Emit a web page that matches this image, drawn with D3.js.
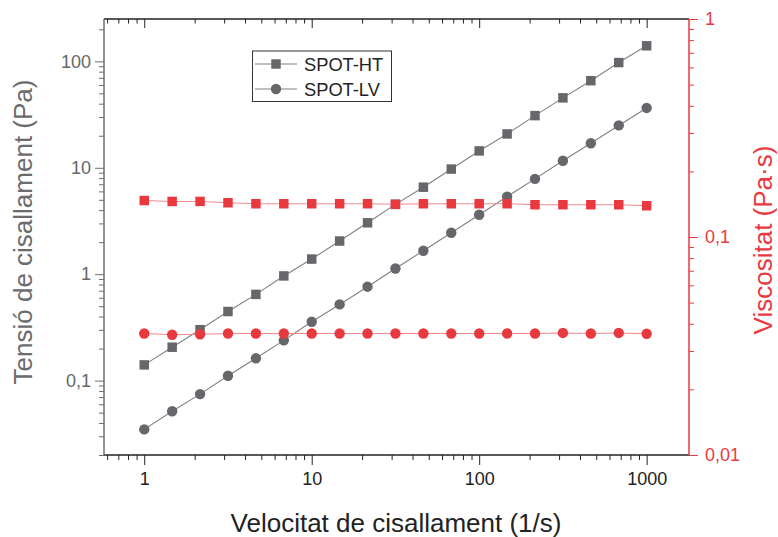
<!DOCTYPE html>
<html><head><meta charset="utf-8">
<script src="https://cdn.jsdelivr.net/npm/d3@7"></script>
<style>
body{margin:0;background:#fff;}
svg{display:block;font-family:"Liberation Sans",Arial,sans-serif;}
</style></head>
<body><svg id="c" width="778" height="537"></svg>
<script>
// ---- data ----
const shearRate = [1, 1.468, 2.154, 3.162, 4.642, 6.813, 10, 14.68, 21.54, 31.62, 46.42, 68.13, 100, 146.8, 215.4, 316.2, 464.2, 681.3, 1000];
const stressHT = [0.1405, 0.206, 0.301, 0.446, 0.646, 0.963, 1.387, 2.05, 3.04, 4.53, 6.57, 9.72, 14.4, 20.8, 30.9, 45.4, 65.8, 97.4, 140];
const stressLV = [0.0348, 0.0515, 0.0747, 0.111, 0.162, 0.239, 0.357, 0.520, 0.763, 1.13, 1.66, 2.45, 3.62, 5.36, 7.87, 11.65, 17.0, 25.0, 36.5];
const viscHT = [0.147, 0.1456, 0.1456, 0.1436, 0.1421, 0.1421, 0.1421, 0.1421, 0.1421, 0.1413, 0.1421, 0.1421, 0.1421, 0.1421, 0.1406, 0.1406, 0.1406, 0.1406, 0.1391];
const viscLV = [0.0361, 0.0356, 0.0358, 0.0361, 0.0361, 0.0361, 0.0361, 0.0361, 0.0361, 0.0361, 0.0361, 0.0361, 0.0361, 0.0361, 0.0361, 0.0363, 0.0361, 0.0363, 0.0360];
const seriesNames = ["SPOT-HT", "SPOT-LV"];
const xTicks = [1, 10, 100, 1000];
const xTickLabels = ["1", "10", "100", "1000"];
const yLeftTicks = [0.1, 1, 10, 100];
const yLeftTickLabels = ["0,1", "1", "10", "100"];
const yRightTicks = [0.01, 0.1, 1];
const yRightTickLabels = ["0,01", "0,1", "1"];

// ---- layout ----
const svg = d3.select("#c");
const L = 104, R = 689, T = 19, B = 455;
const GRAY = "#66676b", RED = "#e8393f", AXG = "#6e6e6e";
const TICKFS = 18;

const x = d3.scaleLog().domain([0.575, 1790]).range([L, R]);
const yL = d3.scaleLog().domain([0.02, 250]).range([B, T]);
const yR = d3.scaleLog().domain([0.01, 1]).range([B, T]);

function minors(scale) {
  const [a, b] = scale.domain();
  const out = [];
  for (let e = Math.floor(Math.log10(a)); e <= Math.ceil(Math.log10(b)); e++) {
    for (let m = 2; m <= 9; m++) {
      const v = m * Math.pow(10, e);
      if (v >= a * 0.999 && v <= b * 1.001) out.push(v);
    }
  }
  return out;
}
function styleAxis(g, color, fontColor) {
  g.select(".domain").remove();
  g.selectAll("line").attr("stroke", color).attr("stroke-width", 1);
  g.selectAll("text").attr("fill", fontColor).attr("font-size", TICKFS).attr("font-family", "Liberation Sans, Arial, sans-serif");
}

// bottom axis
const gB = svg.append("g").attr("transform", `translate(0,${B})`);
gB.call(d3.axisBottom(x).tickValues(xTicks).tickFormat((d, i) => xTickLabels[i]).tickSize(10).tickPadding(7));
styleAxis(gB, "#222", "#222");
const gBm = svg.append("g").attr("transform", `translate(0,${B})`);
gBm.call(d3.axisBottom(x).tickValues(minors(x)).tickFormat("").tickSize(5));
styleAxis(gBm, "#222", "#222");

// top axis (ticks pointing inward)
const gT = svg.append("g").attr("transform", `translate(0,${T})`);
gT.call(d3.axisBottom(x).tickValues(xTicks).tickFormat("").tickSize(9));
styleAxis(gT, "#222", "#222");
const gTm = svg.append("g").attr("transform", `translate(0,${T})`);
gTm.call(d3.axisBottom(x).tickValues(minors(x)).tickFormat("").tickSize(4.5));
styleAxis(gTm, "#222", "#222");

// left axis
const gL = svg.append("g").attr("transform", `translate(${L},0)`);
gL.call(d3.axisLeft(yL).tickValues(yLeftTicks).tickFormat((d, i) => yLeftTickLabels[i]).tickSize(9).tickPadding(4));
styleAxis(gL, AXG, "#676767");
const gLm = svg.append("g").attr("transform", `translate(${L},0)`);
gLm.call(d3.axisLeft(yL).tickValues(minors(yL)).tickFormat("").tickSize(5));
styleAxis(gLm, AXG, AXG);

// right axis
const gR = svg.append("g").attr("transform", `translate(${R},0)`);
gR.call(d3.axisRight(yR).tickValues(yRightTicks).tickFormat((d, i) => yRightTickLabels[i]).tickSize(9).tickPadding(7));
styleAxis(gR, RED, RED);
const gRm = svg.append("g").attr("transform", `translate(${R},0)`);
gRm.call(d3.axisRight(yR).tickValues(minors(yR)).tickFormat("").tickSize(5));
styleAxis(gRm, RED, RED);

// axis lines
svg.append("line").attr("x1", L).attr("x2", R).attr("y1", B).attr("y2", B).attr("stroke", "#222").attr("stroke-width", 1.3);
svg.append("line").attr("x1", L).attr("x2", R).attr("y1", T).attr("y2", T).attr("stroke", "#222").attr("stroke-width", 1.3);
svg.append("line").attr("x1", L).attr("x2", L).attr("y1", T).attr("y2", B).attr("stroke", AXG).attr("stroke-width", 1.5);
svg.append("line").attr("x1", R).attr("x2", R).attr("y1", T).attr("y2", B).attr("stroke", RED).attr("stroke-width", 1.5);

// series
const sq = d3.symbol().type(d3.symbolSquare).size(90);
const ci = d3.symbol().type(d3.symbolCircle).size(85);
function drawSeries(vals, yScale, lineColor, markColor, sym) {
  const pts = shearRate.map((r, i) => [x(r), yScale(vals[i])]);
  svg.append("path").attr("d", d3.line()(pts)).attr("fill", "none").attr("stroke", lineColor).attr("stroke-width", 1.1);
  svg.append("g").selectAll("path").data(pts).join("path")
    .attr("transform", d => `translate(${d[0]},${d[1]})`).attr("d", sym()).attr("fill", markColor);
}
drawSeries(stressHT, yL, "#808080", GRAY, sq);
drawSeries(stressLV, yL, "#808080", GRAY, ci);
drawSeries(viscHT, yR, "#f28a8d", RED, sq);
drawSeries(viscLV, yR, "#f28a8d", RED, ci);

// legend
const lg = svg.append("g");
lg.append("rect").attr("x", 252.5).attr("y", 51).attr("width", 139).attr("height", 50.5).attr("fill", "#fff").attr("stroke", "#333").attr("stroke-width", 1);
[[sq, 64], [ci, 89]].forEach(([sym, yy], i) => {
  lg.append("line").attr("x1", 255).attr("x2", 297).attr("y1", yy).attr("y2", yy).attr("stroke", "#808080").attr("stroke-width", 1.1);
  lg.append("path").attr("transform", `translate(276,${yy})`).attr("d", sym()).attr("fill", GRAY);
  lg.append("text").attr("x", 304).attr("y", yy + 6.5).attr("font-size", 18.3).attr("fill", "#222").text(seriesNames[i]);
});

// titles
svg.append("text").attr("transform", `translate(396,532)`).attr("text-anchor", "middle")
  .attr("font-size", 26).attr("fill", "#222").text("Velocitat de cisallament (1/s)");
svg.append("text").attr("transform", `translate(32,232) rotate(-90)`).attr("text-anchor", "middle")
  .attr("font-size", 26).attr("fill", "#6b6b6b").text("Tensió de cisallament (Pa)");
svg.append("text").attr("transform", `translate(772,240) rotate(-90)`).attr("text-anchor", "middle")
  .attr("font-size", 26).attr("fill", RED).text("Viscositat (Pa·s)");
</script></body></html>
